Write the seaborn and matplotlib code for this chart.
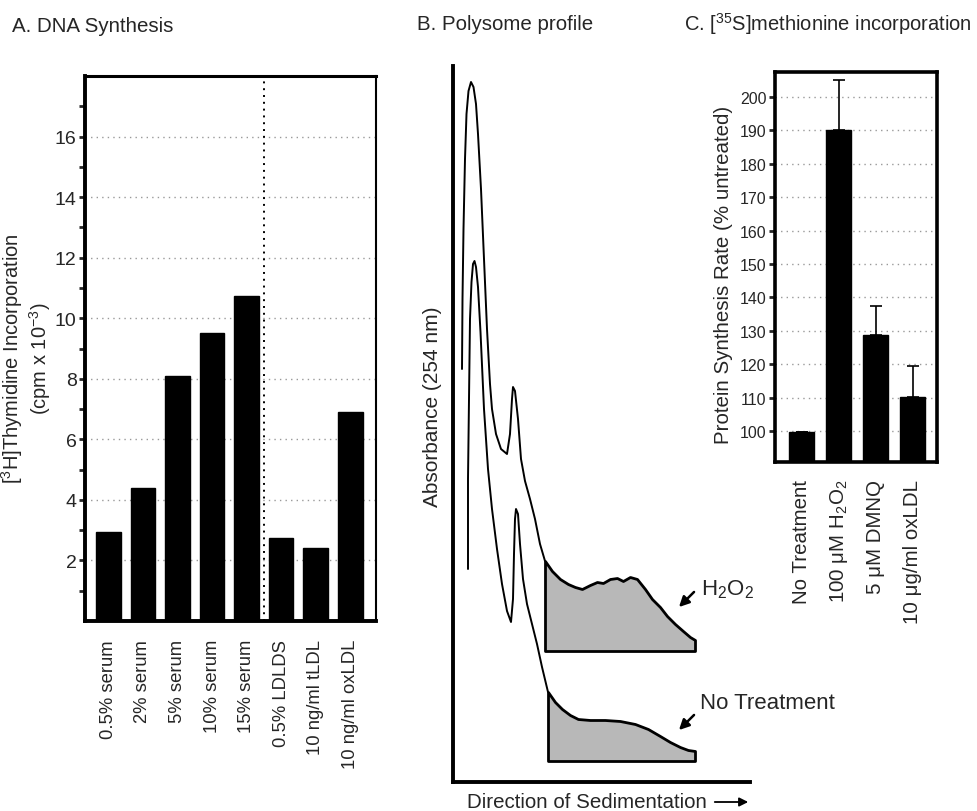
import matplotlib
matplotlib.use("Agg")
import matplotlib.pyplot as plt
import numpy as np
import pandas as pd
import seaborn as sns

# A. DNA synthesis
dna_labels = ["0.5% serum", "2% serum", "5% serum", "10% serum", "15% serum",
              "0.5% LDLDS", "10 ng/ml tLDL", "10 ng/ml oxLDL"]
dna_values = [2.95, 4.4, 8.1, 9.5, 10.75, 2.75, 2.4, 6.9]

# B. Polysome profile (arbitrary units)
h2o2_x = [9, 9.5, 10.5, 12, 13.5, 15.5, 18, 20.5, 23, 25, 28, 31, 34, 37, 39, 43, 48, 54,
          57, 59, 60, 62, 65, 68, 72, 77, 82, 87, 92]
h2o2_y = [413, 483, 553, 623, 668, 691, 700, 695, 678, 648, 593, 523, 453, 398, 373, 348,
          333, 328, 348, 383, 395, 391, 363, 323, 301, 283, 263, 238, 221]
h2o2_tail_x = [92, 99, 107, 115, 122, 129, 137, 144, 150, 157, 164, 170, 177, 184, 192,
               199, 207, 214, 222, 230, 237, 242]
h2o2_tail_y = [221, 211, 203, 198, 195, 193, 197, 200, 199, 203, 204, 201, 205, 203, 193,
               183, 175, 166, 158, 151, 145, 142]
h2o2_base = 131

nt_x = [15, 15, 16, 17, 18.5, 20, 21.5, 23, 25, 27.5, 31, 35, 39, 44, 49, 54, 58, 60, 61,
        62, 63, 65, 67, 70, 74, 79, 84, 89, 95]
nt_y = [213, 303, 383, 463, 500, 518, 521, 515, 495, 450, 373, 313, 273, 233, 198, 171,
        160, 183, 228, 263, 273, 268, 238, 203, 178, 158, 138, 115, 90]
nt_tail_x = [95, 102, 109, 117, 125, 137, 152, 167, 182, 195, 207, 217, 227, 235, 242]
nt_tail_y = [90, 80, 73, 67, 63, 62, 62, 61, 58, 53, 46, 40, 35, 32, 31]
nt_base = 21

# C. [35S]methionine incorporation
prot_labels = ["No Treatment", "100 μM H$_2$O$_2$", "5 μM DMNQ", "10 μg/ml oxLDL"]
prot_values = [99.7, 190, 128.7, 110.2]
prot_err = [0, 15, 8.8, 9.3]

sns.set_style("white")
plt.rcParams["font.family"] = ["Liberation Sans", "DejaVu Sans"]
plt.rcParams["mathtext.default"] = "regular"

W, H = 977, 812
fig = plt.figure(figsize=(W / 100, H / 100), dpi=100)


def box(l, t, r, b):
    return [l / W, 1 - b / H, (r - l) / W, (b - t) / H]


grid_style = dict(color="#999999", linestyle=(0, (1, 3)), linewidth=1)

# ---- panel A
axA = fig.add_axes(box(85, 77, 376, 622))
dfA = pd.DataFrame({"cond": dna_labels, "val": dna_values})
sns.barplot(data=dfA, x="cond", y="val", color="black", edgecolor="black",
            width=0.72, ax=axA)
axA.set_ylim(0, 18)
axA.set_xlim(-0.68, 7.75)
axA.set_yticks(range(2, 17, 2))
axA.set_yticks(range(1, 18, 2), minor=True)
axA.yaxis.grid(True, **grid_style)
axA.set_axisbelow(True)
axA.axvline(4.5, color="black", linestyle=(0, (1, 2.5)), linewidth=1.4)
axA.tick_params(axis="y", which="both", left=True, direction="out", length=4, width=2,
                labelsize=14, pad=2)
axA.tick_params(axis="x", length=0, labelsize=13.3, pad=13)
axA.set_xticks(range(len(dna_labels)))
axA.set_xticklabels(dna_labels, rotation=90)
axA.set_xlabel("")
axA.set_ylabel("[$^3$H]Thymidine Incorporation\n(cpm x 10$^{-3}$)", fontsize=14.5,
               linespacing=1.1)
axA.yaxis.set_label_coords(-0.11, 0.483)
for side in ["left", "bottom", "top", "right"]:
    axA.spines[side].set_color("black")
axA.spines["left"].set_linewidth(2.8)
axA.spines["bottom"].set_linewidth(2.8)
axA.spines["top"].set_linewidth(2.2)
axA.spines["right"].set_linewidth(1.5)

# ---- panel B
axB = fig.add_axes(box(453, 67, 750, 783))
sns.lineplot(x=h2o2_x, y=h2o2_y, sort=False, estimator=None, color="black",
             linewidth=1.4, ax=axB)
sns.lineplot(x=nt_x, y=nt_y, sort=False, estimator=None, color="black",
             linewidth=1.4, ax=axB)
axB.fill_between(h2o2_tail_x, h2o2_base, h2o2_tail_y, facecolor="#b8b8b8",
                 edgecolor="black", linewidth=2)
axB.fill_between(nt_tail_x, nt_base, nt_tail_y, facecolor="#b8b8b8",
                 edgecolor="black", linewidth=2)
axB.set_xlim(0, 297)
axB.set_ylim(0, 716)
axB.set_xticks([])
axB.set_yticks([])
sns.despine(ax=axB)
axB.spines["left"].set_linewidth(2.8)
axB.spines["bottom"].set_linewidth(2.8)
axB.spines["left"].set_color("black")
axB.spines["bottom"].set_color("black")
axB.set_ylabel("Absorbance (254 nm)", fontsize=15)
axB.yaxis.set_label_coords(-0.037, 0.525)
arrow = dict(arrowstyle="-|>", color="black", lw=1.8, mutation_scale=15)
axB.annotate("", xy=(224, 173), xytext=(243, 192), arrowprops=arrow,
             annotation_clip=False)
axB.text(248, 193, "H$_2$O$_2$", fontsize=16, ha="left", va="center", clip_on=False)
axB.annotate("", xy=(224, 50), xytext=(243, 69), arrowprops=arrow,
             annotation_clip=False)
axB.text(247, 79, "No Treatment", fontsize=16, ha="left", va="center", clip_on=False)
fig.text(467 / W, 1 - 803 / H, "Direction of Sedimentation", fontsize=14.8,
         ha="left", va="center")
axB.annotate("", xy=(751 / W, 1 - 803 / H), xytext=(712 / W, 1 - 803 / H),
             xycoords="figure fraction", textcoords="figure fraction",
             arrowprops=dict(arrowstyle="-|>", color="black", lw=1.3,
                             mutation_scale=13))

# ---- panel C
axC = fig.add_axes(box(775, 73, 937, 463))
dfC = pd.DataFrame({"cond": prot_labels, "val": prot_values})
sns.barplot(data=dfC, x="cond", y="val", color="black", edgecolor="black",
            width=0.68, ax=axC)
axC.errorbar(range(len(prot_values)), prot_values,
             yerr=[np.zeros(len(prot_err)), prot_err], fmt="none", ecolor="black",
             elinewidth=1.2, capsize=4, capthick=1.2)
axC.set_ylim(90.7, 207.5)
axC.set_xlim(-0.72, 3.66)
axC.set_yticks(range(100, 201, 10))
axC.yaxis.grid(True, **grid_style)
axC.set_axisbelow(True)
axC.tick_params(axis="y", left=True, direction="out", length=4, width=2,
                labelsize=11.5, pad=2)
axC.tick_params(axis="x", length=0, labelsize=14.8, pad=12)
axC.set_xticks(range(len(prot_labels)))
axC.set_xticklabels(prot_labels, rotation=90)
axC.set_xlabel("")
axC.set_ylabel("Protein Synthesis Rate (% untreated)", fontsize=14.8)
axC.yaxis.set_label_coords(-0.26, 0.482)
for side in ["left", "bottom", "top", "right"]:
    axC.spines[side].set_color("black")
    axC.spines[side].set_linewidth(2.6)

# ---- panel titles
fig.text(12 / W, 1 - 27 / H, "A. DNA Synthesis", fontsize=14.8, ha="left", va="center")
fig.text(417 / W, 1 - 24 / H, "B. Polysome profile", fontsize=14.8, ha="left",
         va="center")
fig.text(684 / W, 1 - 24 / H, "C. [$^{35}$S]methionine incorporation", fontsize=14.5,
         ha="left", va="center")

fig.savefig("out.png", dpi=100)
